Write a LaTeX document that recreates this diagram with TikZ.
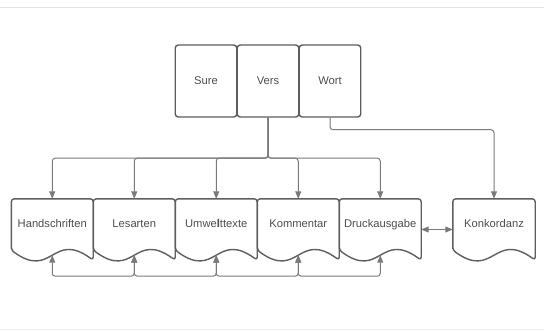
\documentclass[tikz,border=0pt]{standalone}
\usepackage{fontspec}
\setmainfont{Liberation Sans}
\usetikzlibrary{arrows.meta,calc}
\definecolor{boxline}{HTML}{5E5E5E}
\definecolor{wirecol}{HTML}{7A7A7A}
\definecolor{ink}{HTML}{4D4D4D}
\definecolor{rulecol}{HTML}{E3E3E3}
\definecolor{rulelight}{HTML}{F2F2F2}

\begin{document}
\begin{tikzpicture}[x=1pt,y=-1pt,
  every node/.style={font=\fontsize{11.2}{13}\selectfont, text=ink},
  topbox/.style={draw=boxline, line width=1.4pt, rounded corners=3pt,
    minimum width=61.5pt, minimum height=72pt, inner sep=0pt},
  docbox/.style={minimum width=81.5pt, minimum height=61pt, inner sep=0pt,
    text height=8pt, text depth=13pt},
  docline/.style={draw=boxline, line width=1.4pt, line join=round, rounded corners=3pt},
  wire/.style={draw=wirecol, line width=1pt, rounded corners=3pt},
  tip/.style={-{Triangle[length=7.5pt,width=6pt]}},
  bothtips/.style={{Triangle[length=7.5pt,width=6pt]}-{Triangle[length=7.5pt,width=6pt]}}
]
\useasboundingbox (0,0) rectangle (544,330);
\draw[rulecol, line width=1pt] (0,7.5) -- (544,7.5);
\draw[rulelight, line width=1pt] (0,329.5) -- (544,329.5);

% upper row
\node[topbox] (sure) at (206,81) {Sure};
\node[topbox] (vers) at (268,81) {Vers};
\node[topbox] (wort) at (330,81) {Wort};

% document row
\node[docbox] (hs) at (52.25,229.5) {Handschriften};
\node[docbox] (la) at (134.25,229.5) {Lesarten};
\node[docbox] (um) at (216.25,229.5) {Umwe\textbf{l}ttexte};
\node[docbox] (ko) at (298.25,229.5) {Kommentar};
\node[docbox] (dr) at (380.25,229.5) {Druckausgabe};
\node[docbox, minimum width=82pt] (kk) at (494,229.5) {Konkordanz};

% document outlines with wavy bottom edge
\foreach \d in {hs,la,um,ko,dr,kk} {
  \draw[docline] ($(\d.south west)+(0,-10)$) -- (\d.north west) -- (\d.north east)
    -- (\d.south east)
    .. controls ($(\d.south)+(0,-30)$) and ($(\d.south)+(0,20)$) .. ($(\d.south west)+(0,-10)$)
    -- cycle;
}

% connectors from Vers
\foreach \d in {hs,la,um,ko,dr}
  \draw[wire,tip] (vers.south) -- ++(0,40.5) -| (\d.north);

% connector from Wort
\draw[wire,tip] (wort.south) -- ++(0,12) -| (kk.north);

% links along the bottom
\foreach \a/\b in {hs/la, la/um, um/ko, ko/dr}
  \draw[wire,bothtips] ($(\a.south)+(0,-5)$) -- ($(\a.south)+(0,16)$) -| ($(\b.south)+(0,-5)$);

\draw[wire,bothtips] (dr.east) -- (kk.west);
\end{tikzpicture}
\end{document}
